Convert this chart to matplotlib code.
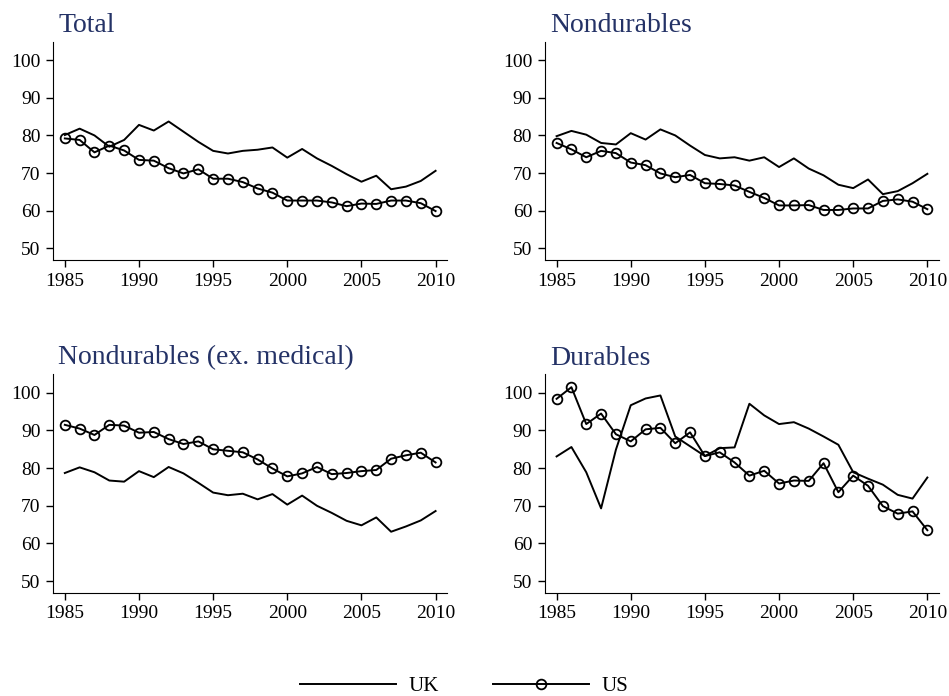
import numpy as np
import matplotlib.pyplot as plt
from matplotlib.lines import Line2D

years = np.arange(1985, 2011)

# Total
total_uk = [80.1, 81.8, 80.0, 77.0, 78.8, 82.8, 81.3, 83.7, 81.0, 78.3, 75.9, 75.2, 75.9,
            76.2, 76.8, 74.1, 76.4, 73.9, 71.9, 69.7, 67.7, 69.3, 65.7, 66.4, 67.9, 70.6]
total_us = [79.2, 78.8, 75.5, 77.3, 76.0, 73.5, 73.3, 71.3, 69.9, 71.0, 68.5, 68.5, 67.6,
            65.9, 64.8, 62.7, 62.7, 62.7, 62.2, 61.2, 61.9, 61.8, 62.7, 62.7, 62.0, 59.9]

# Nondurables
nondur_uk = [79.8, 81.2, 80.2, 78.0, 77.6, 80.6, 78.9, 81.6, 80.0, 77.3, 74.8, 73.9, 74.2,
             73.3, 74.2, 71.6, 73.9, 71.2, 69.4, 66.9, 66.0, 68.3, 64.4, 65.2, 67.3, 69.8]
nondur_us = [78.0, 76.3, 74.2, 75.9, 75.3, 72.8, 72.1, 69.9, 68.9, 69.5, 67.3, 67.1, 66.7,
             65.0, 63.4, 61.4, 61.4, 61.5, 60.2, 60.2, 60.6, 60.6, 62.6, 63.0, 62.4, 60.4]

# Nondurables (ex. medical)
exmed_uk = [78.7, 80.2, 78.9, 76.7, 76.4, 79.2, 77.6, 80.3, 78.6, 76.1, 73.5, 72.8, 73.2,
            71.7, 73.1, 70.3, 72.7, 70.0, 68.1, 66.0, 64.8, 66.9, 63.1, 64.5, 66.1, 68.6]
exmed_us = [91.5, 90.5, 88.8, 91.5, 91.3, 89.4, 89.6, 87.7, 86.4, 87.1, 85.0, 84.6, 84.2,
            82.3, 79.9, 77.8, 78.6, 80.3, 78.4, 78.7, 79.2, 79.5, 82.5, 83.4, 84.1, 81.5]

# Durables
dur_uk = [83.1, 85.6, 78.9, 69.3, 84.9, 96.7, 98.5, 99.3, 88.4, 85.8, 83.2, 85.3, 85.5,
          97.1, 94.0, 91.7, 92.2, 90.5, 88.4, 86.2, 78.9, 77.2, 75.6, 72.9, 71.9, 77.5]
dur_us = [98.4, 101.5, 91.7, 94.5, 89.0, 87.1, 90.3, 90.7, 86.6, 89.5, 83.2, 84.2, 81.5,
          78.0, 79.3, 75.9, 76.7, 76.6, 81.3, 73.6, 78.0, 75.3, 69.9, 67.9, 68.5, 63.5]

titles = ['Total', 'Nondurables', 'Nondurables (ex. medical)', 'Durables']
uk_series = [total_uk, nondur_uk, exmed_uk, dur_uk]
us_series = [total_us, nondur_us, exmed_us, dur_us]

plt.rcParams['font.family'] = 'Liberation Serif'
title_color = '#243266'

fig = plt.figure(figsize=(9.49, 6.96), dpi=100)
positions = [(0.0558, 0.6264), (0.574, 0.6264), (0.0558, 0.1484), (0.574, 0.1484)]
w, h = 0.4157, 0.3137

for (x0, y0), title, uk, us in zip(positions, titles, uk_series, us_series):
    ax = fig.add_axes([x0, y0, w, h])
    ax.plot(years, uk, color='black', lw=1.4)
    ax.plot(years, us, color='black', lw=1.4, marker='o', ms=7,
            mfc='none', mec='black', mew=1.3)
    ax.set_xlim(1984.2, 2010.8)
    ax.set_ylim(46.9, 104.9)
    ax.set_xticks(range(1985, 2011, 5))
    ax.set_yticks(range(50, 101, 10))
    ax.spines['top'].set_visible(False)
    ax.spines['right'].set_visible(False)
    ax.tick_params(labelsize=14, length=5, width=1, direction='out', pad=4)
    ax.text(0.013, 1.045, title, transform=ax.transAxes, fontsize=20,
            color=title_color, va='baseline', ha='left')

handles = [Line2D([], [], color='black', lw=1.4),
           Line2D([], [], color='black', lw=1.4, marker='o', ms=7,
                  mfc='none', mec='black', mew=1.3)]
fig.legend(handles, ['UK', 'US'], loc='lower center', ncol=2, frameon=False,
           fontsize=15, handlelength=4.6, handletextpad=0.6, columnspacing=2.6,
           bbox_to_anchor=(0.489, -0.027))

plt.savefig('out.png', dpi=100)
